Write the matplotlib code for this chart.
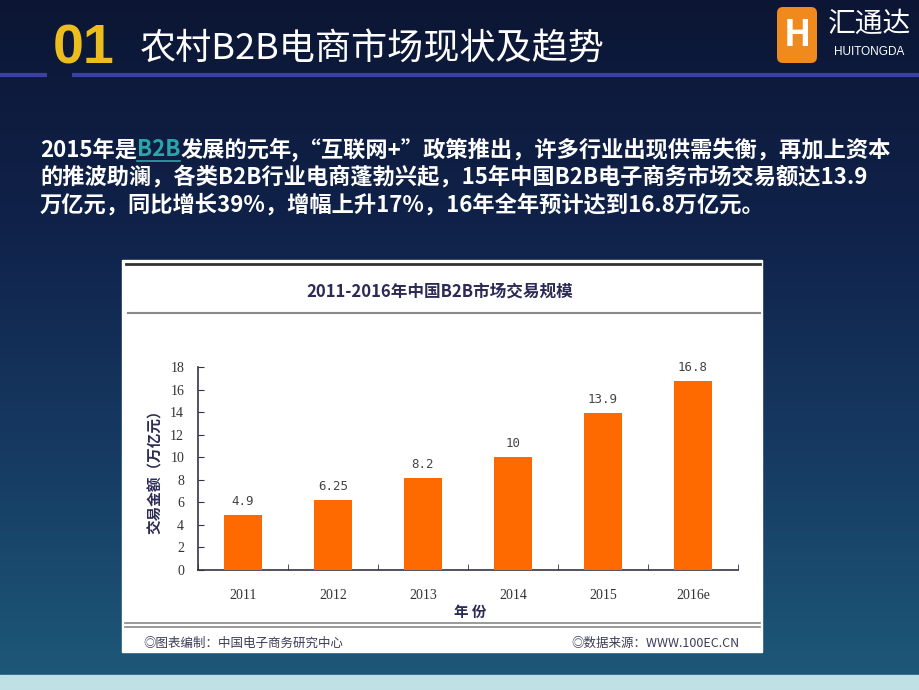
import numpy as np
import matplotlib
matplotlib.use('Agg')
import matplotlib.pyplot as plt
from matplotlib.patches import Rectangle, FancyBboxPatch
from matplotlib.colors import LinearSegmentedColormap

plt.rcParams['font.family'] = ['Noto Sans CJK SC', 'DejaVu Sans']

# data
years = ['2011', '2012', '2013', '2014', '2015', '2016e']
amounts = [4.9, 6.25, 8.2, 10, 13.9, 16.8]
value_labels = ['4.9', '6.25', '8.2', '10', '13.9', '16.8']
y_ticks = [0, 2, 4, 6, 8, 10, 12, 14, 16, 18]

para_lines = [
    [('2015年是', 'white', False), ('B2B', '#2aa5a8', True),
     ('发展的元年,“互联网+”政策推出，许多行业出现供需失衡，再加上资本', 'white', False)],
    [('的推波助澜，各类B2B行业电商蓬勃兴起，15年中国B2B电子商务市场交易额达13.9', 'white', False)],
    [('万亿元，同比增长39%，增幅上升17%，16年全年预计达到16.8万亿元。', 'white', False)],
]

W, H = 920, 690
fig = plt.figure(figsize=(W / 100, H / 100), dpi=100)

# background in pixel coords
bg = fig.add_axes([0, 0, 1, 1])
bg.set_xlim(0, W)
bg.set_ylim(H, 0)
bg.axis('off')
grad = np.linspace(0, 1, 256).reshape(-1, 1)
cmap = LinearSegmentedColormap.from_list('bg', ['#0c1634', '#10224a', '#163a62', '#1d5878'])
bg.imshow(grad, aspect='auto', cmap=cmap, extent=[0, W, 675, 0], zorder=0)
bg.add_patch(Rectangle((0, 675), W, 15, color='#bfe1e6', zorder=1))

# header
bg.text(53, 50, '01', color='#ebbd1e', fontsize=40, fontweight='bold',
        va='center', ha='left', family=['Liberation Sans', 'DejaVu Sans'])
bg.text(140, 50, '农村B2B电商市场现状及趋势', color='white', fontsize=26,
        va='center', ha='left')
bg.plot([0, 47], [75, 75], color='#3a40a8', lw=3, solid_capstyle='butt')
bg.plot([72, W], [75, 75], color='#3a40a8', lw=3, solid_capstyle='butt')

# logo
bg.add_patch(FancyBboxPatch((777, 7), 40, 56, boxstyle='round,pad=0,rounding_size=6',
                            fc='#f08a1d', ec='none', zorder=2))
bg.text(797, 36, 'H', color='white', fontsize=26, fontweight='bold',
        ha='center', va='center', zorder=3)
bg.text(869, 24, '汇通达', color='white', fontsize=20, ha='center', va='center')
bg.text(869, 52, 'HUITONGDA', color='white', fontsize=8.5, ha='center', va='center',
        family=['Liberation Sans', 'DejaVu Sans'])

# paragraph
renderer = fig.canvas.get_renderer()
line_y = [150, 177, 205]
for pieces, y in zip(para_lines, line_y):
    x = 40
    for txt, col, ul in pieces:
        t = bg.text(x, y, txt, color=col, fontsize=16, fontweight='bold',
                    va='center', ha='left')
        w = t.get_window_extent(renderer).width
        if ul:
            bg.plot([x, x + w], [y + 11, y + 11], color=col, lw=1.2)
        x += w

# white chart panel
bg.add_patch(Rectangle((122, 260), 640, 392, color='white', zorder=2))
bg.plot([126, 760], [264, 264], color='#333333', lw=2, zorder=3)
bg.plot([128, 760], [313, 313], color='#8a8a8a', lw=1.5, zorder=3)
bg.plot([125, 760], [623, 623], color='#888888', lw=1.2, zorder=3)
bg.plot([125, 760], [627, 627], color='#888888', lw=1.2, zorder=3)
bg.text(440, 291, '2011-2016年中国B2B市场交易规模', color='#2b2b55', fontsize=12,
        fontweight='bold', ha='center', va='center', zorder=4)
bg.text(155, 468, '交易金额（万亿元）', color='#2b2b55', fontsize=10.5, fontweight='bold',
        rotation=90, ha='center', va='center', zorder=4)
bg.text(470, 612, '年 份', color='#2b2b55', fontsize=10.5, fontweight='bold',
        ha='center', va='center', zorder=4)
bg.text(143, 643, '◎图表编制：中国电子商务研究中心', color='#3c3c5a', fontsize=9,
        ha='left', va='center', zorder=4)
bg.text(740, 643, '◎数据来源：WWW.100EC.CN', color='#3c3c5a', fontsize=9,
        ha='right', va='center', zorder=4)

# bar chart
ax = fig.add_axes([198 / W, 120 / H, 540 / W, 203 / H])
ax.patch.set_alpha(0)
x = np.arange(len(years))
bars = ax.bar(x, amounts, width=0.42, color='#ff6a00', zorder=3)
for b, lab in zip(bars, value_labels):
    ax.annotate(lab, (b.get_x() + b.get_width() / 2, b.get_height()),
                xytext=(0, 5), textcoords='offset points', ha='center', va='bottom',
                fontsize=9, color='#444444', family=['DejaVu Sans Mono'])
ax.set_xlim(-0.5, len(years) - 0.5)
ax.set_ylim(0, 18)
ax.set_yticks(y_ticks)
ax.set_xticks(x)
ax.set_xticklabels(years)
ax.set_xticks(np.arange(-0.5, len(years), 1), minor=True)
for lab in ax.get_xticklabels() + ax.get_yticklabels():
    lab.set_family(['Liberation Serif', 'DejaVu Serif'])
    lab.set_fontsize(10)
    lab.set_color('#333333')
ax.tick_params(axis='x', which='major', length=0, pad=14)
ax.tick_params(axis='x', which='minor', direction='in', length=4, color='#333344')
ax.tick_params(axis='y', direction='in', length=4, color='#333344', pad=10)
for s in ['top', 'right']:
    ax.spines[s].set_visible(False)
for s in ['left', 'bottom']:
    ax.spines[s].set_color('#333344')
    ax.spines[s].set_linewidth(1.2)

fig.savefig('out.png', dpi=100)
